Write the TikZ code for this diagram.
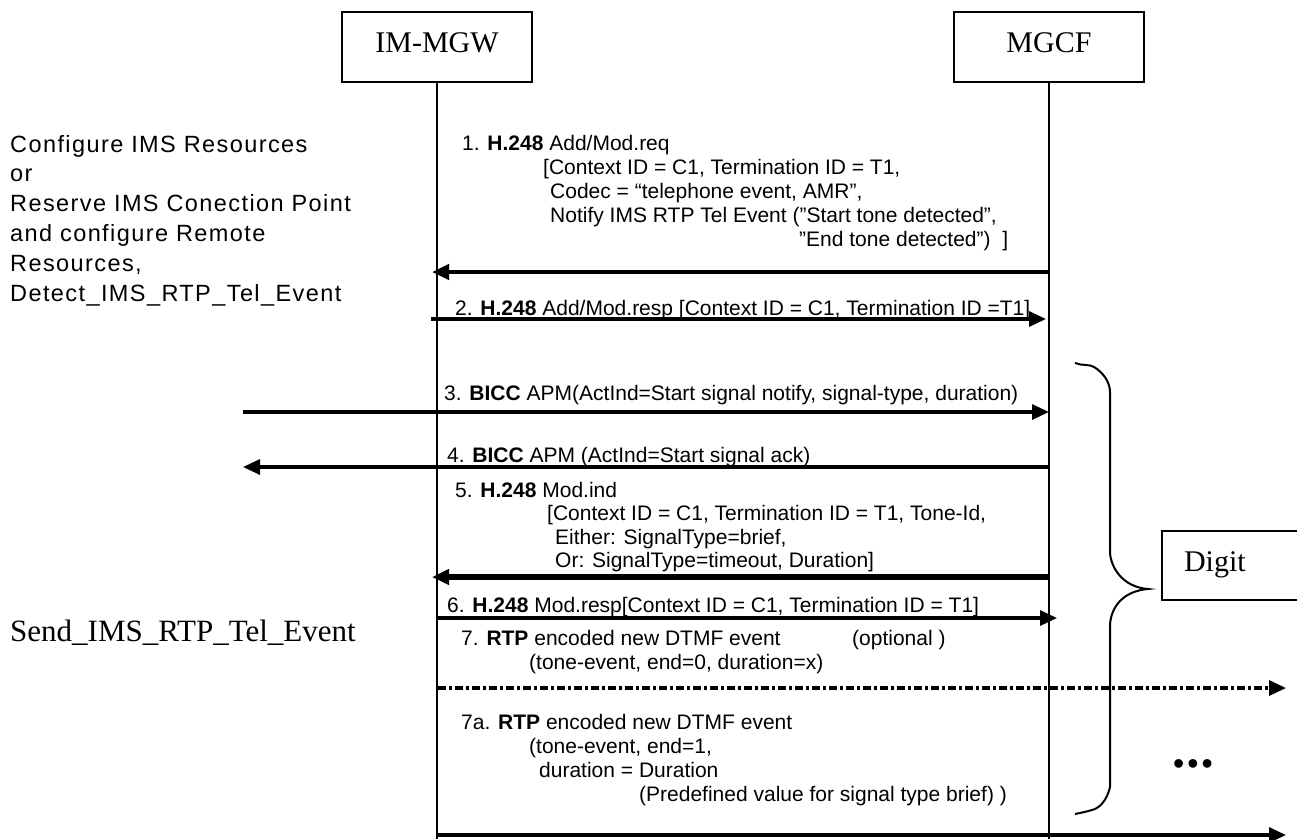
\documentclass[tikz,border=0pt]{standalone}
\usepackage{fontspec}
\setmainfont{Liberation Serif}
\setsansfont{Liberation Sans}
\newfontfamily\leftfont[LetterSpace=6]{Liberation Sans}
\usetikzlibrary{arrows.meta}
\tikzset{
  entity/.style={draw, line width=2pt, minimum width=190pt, minimum height=70pt, inner sep=0pt, text height=20pt, text depth=10pt, font=\rmfamily\fontsize{30}{34}\selectfont},
  lifeline/.style={line width=2.5pt},
  msgtext/.style={anchor=base west, inner sep=0pt, font=\sffamily\fontsize{21}{24}\selectfont},
  lefttext/.style={anchor=base west, inner sep=0pt, font=\leftfont\fontsize{23.5}{30}\selectfont},
  sertext/.style={anchor=base west, inner sep=0pt, font=\rmfamily\fontsize{31}{34}\selectfont},
  msg/.style={line width=3.2pt, -{Triangle[length=17pt,width=15pt]}},
  thickmsg/.style={msg, line width=4.5pt},
  heavymsg/.style={msg, line width=5.5pt},
  dotmsg/.style={msg, dash pattern=on 8pt off 3pt on 3pt off 3pt}
}
\begin{document}
\begin{tikzpicture}[x=1pt, y=-1pt]
\useasboundingbox (0,0) rectangle (1297,839);
\clip (0,0) rectangle (1297,839);
\fill[white] (0,0) rectangle (1297,839);

% entities
\node[entity] (mgw) at (437,47) {IM-MGW};
\node[entity] (mgcf) at (1049,47) {MGCF};
\coordinate (mgwend) at (437,839);
\coordinate (mgcfend) at (1049,839);
\draw[lifeline] (mgw.south) -- (mgwend);
\draw[lifeline] (mgcf.south) -- (mgcfend);

% left annotations
\node[lefttext] (l1) at (10,152) {Configure IMS Resources};
\node[lefttext] (l2) at (10,181) {or};
\node[lefttext] (l3) at (10,211) {Reserve IMS Conection Point};
\node[lefttext] (l4) at (10,241) {and configure Remote};
\node[lefttext] (l5) at (10,271) {Resources,};
\node[lefttext] (l6) at (10,301) {Detect\_IMS\_RTP\_Tel\_Event};
\node[sertext] (send) at (10,641) {Send\_IMS\_RTP\_Tel\_Event};

% message 1
\node[msgtext] (m1a) at (462,150) {1. \textbf{H.248} Add/Mod.req};
\node[msgtext] (m1b) at (543,174) {[Context ID = C1, Termination ID = T1,};
\node[msgtext] (m1c) at (550,198) {Codec = “telephone event, AMR”,};
\node[msgtext] (m1d) at (550,222) {Notify IMS RTP Tel Event (”Start tone detected”,};
\node[msgtext] (m1e) at (799,246) {”End tone detected”)\ \ ]};
\coordinate (a1s) at (1049,272);
\coordinate (a1e) at (432,272);
\draw[thickmsg] (a1s) -- (a1e);

% message 2
\node[msgtext] (m2) at (455,315) {2. \textbf{H.248} Add/Mod.resp [Context ID = C1, Termination ID =T1]};
\coordinate (a2s) at (431,319);
\coordinate (a2e) at (1046,319);
\draw[msg] (a2s) -- (a2e);

% message 3
\node[msgtext] (m3) at (444,400) {3. \textbf{BICC} APM(ActInd=Start signal notify, signal-type, duration)};
\coordinate (a3s) at (243,412);
\coordinate (a3e) at (1049,412);
\draw[msg] (a3s) -- (a3e);

% message 4
\node[msgtext] (m4) at (447,462) {4. \textbf{BICC} APM (ActInd=Start signal ack)};
\coordinate (a4s) at (1049,467);
\coordinate (a4e) at (243,467);
\draw[msg] (a4s) -- (a4e);

% message 5
\node[msgtext] (m5a) at (455,497) {5. \textbf{H.248} Mod.ind};
\node[msgtext] (m5b) at (547,520) {[Context ID = C1, Termination ID = T1, Tone-Id,};
\node[msgtext] (m5c) at (555,544) {Either: SignalType=brief,};
\node[msgtext] (m5d) at (555,567) {Or: SignalType=timeout, Duration]};
\coordinate (a5s) at (1049,577);
\coordinate (a5e) at (432,577);
\draw[heavymsg] (a5s) -- (a5e);

% message 6
\node[msgtext] (m6) at (447,612) {6. \textbf{H.248} Mod.resp[Context ID = C1, Termination ID = T1]};
\coordinate (a6s) at (437,618);
\coordinate (a6e) at (1057,618);
\draw[msg] (a6s) -- (a6e);

% message 7
\node[msgtext] (m7a) at (461,645) {7. \textbf{RTP} encoded new DTMF event};
\node[msgtext] (m7o) at (852,645) {(optional )};
\node[msgtext] (m7b) at (529,669) {(tone-event, end=0, duration=x)};
\coordinate (a7s) at (438,688);
\coordinate (a7e) at (1286,688);
\draw[dotmsg] (a7s) -- (a7e);

% message 7a
\node[msgtext] (m8a) at (461,729) {7a. \textbf{RTP} encoded new DTMF event};
\node[msgtext] (m8b) at (529,753) {(tone-event, end=1,};
\node[msgtext] (m8c) at (539,777) {duration = Duration};
\node[msgtext] (m8d) at (639,801) {(Predefined value for signal type brief) )};
\coordinate (a8s) at (437,835);
\coordinate (a8e) at (1286,835);
\draw[msg] (a8s) -- (a8e);

% brace and digit box
\draw[line width=2pt] (1075,363) .. controls (1082,366) and (1090,364) .. (1094,367)
  .. controls (1104,373) and (1110,383) .. (1110,392)
  -- (1110,553) .. controls (1111,567) and (1122,587) .. (1148,589)
  .. controls (1124,591) and (1111,606) .. (1110,625)
  -- (1110,787) .. controls (1107,800) and (1100,808) .. (1092,810)
  .. controls (1085,812) and (1080,813) .. (1075,814);
\node[draw, line width=2pt, minimum width=140pt, minimum height=69pt, anchor=west,
      font=\rmfamily\fontsize{30}{34}\selectfont, inner xsep=22pt, text width=96pt, align=left] (digit) at (1161,565) {Digit};
\node[inner sep=0pt, font=\sffamily\fontsize{32}{36}\selectfont] (dots) at (1193,767) {•\hspace{3pt}•\hspace{3pt}•};
\end{tikzpicture}
\end{document}
